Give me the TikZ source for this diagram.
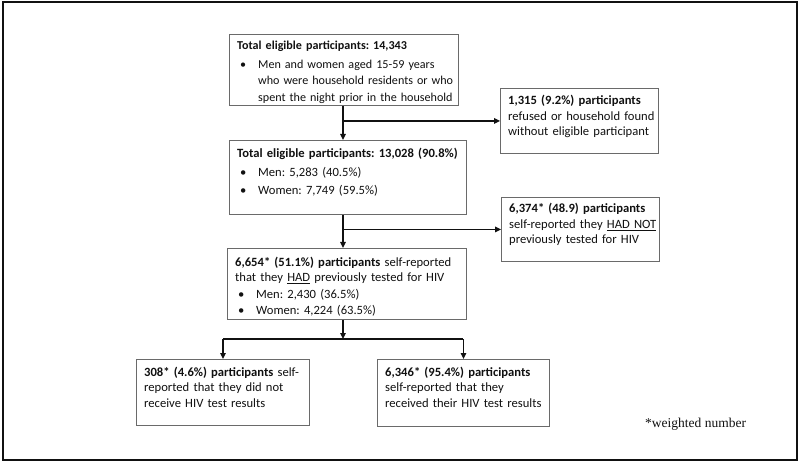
\documentclass[tikz,border=0pt]{standalone}
\usepackage{fontspec}
\setmainfont{Carlito}
\newfontfamily\timesf{Liberation Serif}
\usetikzlibrary{arrows.meta}
\frenchspacing
\definecolor{boxgray}{HTML}{6A6A6A}
\definecolor{ink}{HTML}{111111}
\newcommand{\bulbox}{\hbox to 21pt{\hspace{3pt}\textbullet\hfil}}
\newcommand{\bul}[2]{\par\vspace{#1}\noindent\bulbox #2}
\tikzset{
  box/.style={draw=boxgray, line width=0.9pt, inner sep=0pt, anchor=north west, fill=white},
  txt/.style={anchor=base west, inner sep=0pt, align=left, text width=#1, text=ink,
    font=\fontsize{12.6}{15.5}\selectfont},
  arr/.style={draw=ink, line width=1.3pt, -{Triangle[length=6pt,width=5.5pt]}},
  bar/.style={draw=ink, line width=2pt}
}
\begin{document}
\begin{tikzpicture}[x=1pt,y=-1pt]
\useasboundingbox (0,0) rectangle (800,462);
\draw[draw=ink, line width=2pt] (2.5,2.5) rectangle (797,459.5);

% boxes
\node[box, minimum width=229pt, minimum height=71pt] (b1) at (229,34) {};
\node[box, minimum width=158pt, minimum height=65pt] (b2) at (500,88) {};
\node[box, minimum width=237pt, minimum height=74pt] (b3) at (229,140) {};
\node[box, minimum width=158pt, minimum height=64pt] (b4) at (501,197) {};
\node[box, minimum width=239pt, minimum height=71pt] (b5) at (227,248) {};
\node[box, minimum width=173pt, minimum height=66pt] (b6) at (136,359) {};
\node[box, minimum width=172pt, minimum height=67pt] (b7) at (377,359) {};

% texts
\node[txt=215pt, font=\fontsize{12.1}{16.5}\selectfont] (t1) at (237,50) {\raggedright\textbf{Total eligible participants: 14,343}%
  \par\vspace{2pt}\noindent\bulbox\makebox[192pt][s]{Men and women aged 15-59 years}%
  \par\noindent\hspace{21pt}\makebox[192pt][s]{who were household residents or who}%
  \par\noindent\hspace{21pt}\mbox{spent the night prior in the household}};
\node[txt=148pt] (t2) at (508,105) {\raggedright\textbf{1,315 (9.2\%) participants}\\refused or household found\\without eligible participant};
\node[txt=226pt, font=\fontsize{12.6}{16}\selectfont] (t3) at (237,158) {\raggedright\textbf{Total eligible participants: 13,028 (90.8\%)}%
  \bul{3pt}{Men: 5,283 (40.5\%)}\bul{1.5pt}{Women: 7,749 (59.5\%)}};
\node[txt=148pt] (t4) at (509,213) {\raggedright\textbf{6,374* (48.9) participants}\\self-reported they \underline{HAD NOT}\\previously tested for HIV};
\node[txt=228pt] (t5) at (235,266) {\raggedright\textbf{6,654* (51.1\%) participants} self-reported\\that they \underline{HAD} previously tested for HIV%
  \bul{1.5pt}{Men: 2,430 (36.5\%)}\bul{0.5pt}{Women: 4,224 (63.5\%)}};
\node[txt=164pt] (t6) at (144,376) {\raggedright\textbf{308* (4.6\%) participants} self-\\reported that they did not\\receive HIV test results};
\node[txt=164pt] (t7) at (385,376) {\raggedright\textbf{6,346* (95.4\%) participants}\\self-reported that they\\received their HIV test results};
\node[anchor=base west, inner sep=0pt, text=ink, font=\timesf\fontsize{13.5}{16}\selectfont] (wn) at (645,427) {*weighted number};

% connectors
\draw[arr] (b1.south -| 343,0) -- (b3.north -| 343,0);
\draw[arr] (b2.west -| 343,0) -- (b2.west);
\draw[arr] (b3.south -| 343,0) -- (b5.north -| 343,0);
\draw[arr] (b4.west -| 343,0) -- (b4.west);
\coordinate (jn) at (343,339);
\draw[arr] (b5.south -| jn) -- (jn);
\draw[bar] (b6.north |- jn) -- (b7.north |- jn);
\draw[arr] (b6.north |- jn) -- (b6.north);
\draw[arr] (b7.north |- jn) -- (b7.north);
\end{tikzpicture}
\end{document}
